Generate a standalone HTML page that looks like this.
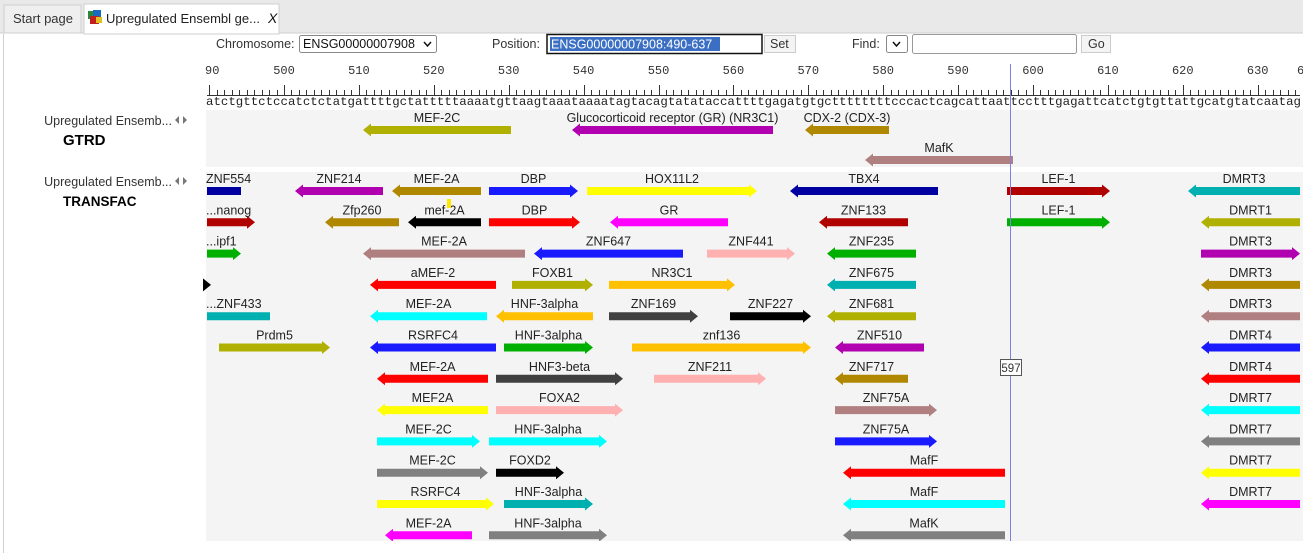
<!DOCTYPE html>
<html><head><meta charset="utf-8"><style>
html,body{margin:0;padding:0;width:1303px;height:553px;overflow:hidden;background:#fff;font-family:"Liberation Sans",Arial,sans-serif;}
svg{display:block}
</style></head><body>
<svg id="s" width="1303" height="553" xmlns="http://www.w3.org/2000/svg" font-family="Liberation Sans, Arial, sans-serif">
<rect x="0" y="0" width="1303" height="553" fill="#fff"/>
<rect x="0" y="0" width="1303" height="33" fill="#e9e9e9"/>
<line x1="0" y1="33" x2="1303" y2="33" stroke="#cfcfcf"/>
<rect x="4" y="5" width="77" height="28" fill="#efefef" stroke="#cfcfcf"/>
<text x="13" y="23" font-size="13" fill="#333">Start page</text>
<rect x="84" y="4" width="195" height="30" fill="#fff" stroke="#cfcfcf"/>
<rect x="88" y="11" width="8" height="8" fill="#2a8a3a"/><rect x="93" y="10" width="8" height="8" fill="#1a6ac0"/><rect x="90" y="16" width="9" height="8" fill="#c02020"/><rect x="96" y="17" width="6" height="6" fill="#e0c020"/>
<text x="106" y="23" font-size="13" fill="#222">Upregulated Ensembl ge...</text>
<text x="268" y="23" font-size="14" font-style="italic" fill="#111">X</text>
<line x1="3.5" y1="34" x2="3.5" y2="553" stroke="#d0d0d0"/>
<text x="216" y="48" font-size="12.5" fill="#333">Chromosome:</text>
<rect x="299.5" y="35.5" width="137" height="17" rx="2" fill="#fff" stroke="#888"/>
<text x="303" y="48" font-size="12.5" fill="#111">ENSG00000007908</text>
<path d="M424 42 l3.5 4 3.5-4" fill="none" stroke="#111" stroke-width="1.5"/>
<text x="492" y="48" font-size="12.5" fill="#333">Position:</text>
<rect x="547" y="34.5" width="215" height="19" fill="#fff" stroke="#111" stroke-width="1.5"/>
<rect x="550" y="37" width="170" height="14" fill="#3a6fc4"/>
<text x="551" y="48.5" font-size="12.5" fill="#fff">ENSG00000007908:490-637</text>
<rect x="764.5" y="35.5" width="31" height="17" fill="#f4f4f4" stroke="#ccc"/>
<text x="770" y="48" font-size="12.5" fill="#333">Set</text>
<text x="852" y="48" font-size="12.5" fill="#333">Find:</text>
<rect x="886.5" y="35.5" width="21" height="17" rx="2" fill="#fff" stroke="#888"/>
<path d="M893 42 l3.5 4 3.5-4" fill="none" stroke="#111" stroke-width="1.5"/>
<rect x="912.5" y="34.5" width="164" height="19" rx="2" fill="#fff" stroke="#999"/>
<rect x="1081.5" y="35.5" width="29" height="17" fill="#f4f4f4" stroke="#ccc"/>
<text x="1088" y="48" font-size="12.5" fill="#333">Go</text>
<g id="ruler"></g>
<rect x="206" y="110" width="1097" height="57" fill="#f4f4f4"/>
<rect x="206" y="172" width="1097" height="369" fill="#f4f4f4"/>
<text x="172" y="125" font-size="12.5" fill="#333" text-anchor="end">Upregulated Ensemb...</text>
<path d="M179 116 l-4 4 4 4z M183 116 l4 4 -4 4z" fill="#777"/>
<text x="63" y="145" font-size="15" font-weight="bold" fill="#000">GTRD</text>
<text x="172" y="186" font-size="12.5" fill="#333" text-anchor="end">Upregulated Ensemb...</text>
<path d="M179 177 l-4 4 4 4z M183 177 l4 4 -4 4z" fill="#777"/>
<text x="63" y="206" font-size="13.5" font-weight="bold" fill="#000">TRANSFAC</text>
<g id="feat"></g>
<line x1="1010.5" y1="64" x2="1010.5" y2="541" stroke="#8080e0" stroke-width="1"/>
<rect x="1000.5" y="359.5" width="21" height="16" fill="#fff" stroke="#555"/>
<text x="1011" y="372" font-size="11.5" fill="#333" text-anchor="middle">597</text>
</svg>
<script>
var NS="http://www.w3.org/2000/svg";
function el(p,t,a,txt){var e=document.createElementNS(NS,t);for(var k in a)e.setAttribute(k,a[k]);if(txt!=null)e.textContent=txt;p.appendChild(e);return e;}
var r=document.getElementById('ruler');
var px=7.49, x0=284-10*px;
function bx(b){return x0+(b-490)*px;}
var d="";
for(var b=490;b<=637;b++){var x=Math.round(bx(b))+0.5;if(x>1300)break;var h=(b%10==0)?10:5;d+="M"+x+" "+(95-h)+"V95";}
d+="M207 95.5H1300";
el(r,'path',{d:d,stroke:'#333','stroke-width':1,fill:'none'});
for(var b=500;b<=630;b+=10){el(r,'text',{x:bx(b),y:74,'font-size':12,'font-family':'Liberation Mono, monospace',fill:'#333','text-anchor':'middle'},String(b));}
el(r,'text',{x:205,y:74,'font-size':12,'font-family':'Liberation Mono, monospace',fill:'#333'},"90");
el(r,'text',{x:1297,y:74,'font-size':12,'font-family':'Liberation Mono, monospace',fill:'#333'},"6");
var seq="atctgttctccatctctatgattttgctatttttaaaatgttaagtaaataaaatagtacagtatataccattttgagatgtgcttttttttcccactcagcattaattcctttgagattcatctgtgttattgcatgtatcaatag";
el(r,'text',{x:206,y:105,'font-size':12,'font-family':'Liberation Mono, monospace',fill:'#222',textLength:(1301-206),lengthAdjust:'spacingAndGlyphs'},seq);
var f=document.getElementById('feat');
function arrow(x1,x2,y,dir,c,lab,la){
  var h=4,H=6.5,L=8,p;
  if(dir=='R'){p="M"+x1+" "+(y-h)+"H"+(x2-L)+"V"+(y-H)+"L"+x2+" "+y+"L"+(x2-L)+" "+(y+H)+"V"+(y+h)+"H"+x1+"Z";}
  else if(dir=='L'){p="M"+x2+" "+(y-h)+"H"+(x1+L)+"V"+(y-H)+"L"+x1+" "+y+"L"+(x1+L)+" "+(y+H)+"V"+(y+h)+"H"+x2+"Z";}
  else {p="M"+x1+" "+(y-h)+"H"+x2+"V"+(y+h)+"H"+x1+"Z";}
  el(f,'path',{d:p,fill:c});
  if(lab){var cx=la=='s'?x1-1:(x1+x2)/2;el(f,'text',{x:cx,y:y-8,'font-size':12.5,fill:'#222','text-anchor':la=='s'?'start':'middle'},lab);}
}
var C={pur:'#b000b0',gold:'#b08800',blue:'#1a1aff',yel:'#ffff00',navy:'#0000a0',dred:'#b00000',teal:'#00b0b0',red:'#ff0000',mag:'#ff00ff',grn:'#00b000',olive:'#b0b000',pink:'#ffb0b0',rose:'#b08080',cyan:'#00ffff',orng:'#ffc000',dgray:'#404040',gray:'#808080',blk:'#000'};
arrow(363,511,130,'L',C.olive,'MEF-2C');
arrow(572,773,130,'L',C.pur,'Glucocorticoid receptor (GR) (NR3C1)');
arrow(805,889,130,'L',C.gold,'CDX-2 (CDX-3)');
arrow(865,1013,160,'L',C.rose,'MafK');
var rows=[
[[207,241,'N',C.navy,'ZNF554','s'],[295,383,'L',C.pur,'ZNF214'],[392,481,'L',C.gold,'MEF-2A'],[489,578,'R',C.blue,'DBP'],[587,757,'R',C.yel,'HOX11L2'],[790,938,'L',C.navy,'TBX4'],[1007,1110,'R',C.dred,'LEF-1'],[1188,1300,'L',C.teal,'DMRT3']],
[[207,255,'R',C.dred,'...nanog','s'],[325,399,'L',C.gold,'Zfp260'],[408,481,'L',C.blk,'mef-2A'],[489,580,'R',C.red,'DBP'],[610,728,'L',C.mag,'GR'],[819,908,'L',C.dred,'ZNF133'],[1007,1110,'R',C.grn,'LEF-1'],[1201,1300,'L',C.olive,'DMRT1']],
[[207,241,'R',C.grn,'...ipf1','s'],[363,525,'L',C.rose,'MEF-2A'],[534,683,'L',C.blue,'ZNF647'],[707,795,'R',C.pink,'ZNF441'],[827,916,'L',C.grn,'ZNF235'],[1201,1300,'R',C.pur,'DMRT3']],
[[203,211,'R',C.blk,''],[370,496,'L',C.red,'aMEF-2'],[512,593,'R',C.olive,'FOXB1'],[609,735,'R',C.orng,'NR3C1'],[827,916,'L',C.teal,'ZNF675'],[1201,1300,'L',C.gold,'DMRT3']],
[[207,270,'N',C.teal,'...ZNF433','s'],[370,487,'L',C.cyan,'MEF-2A'],[496,593,'L',C.orng,'HNF-3alpha'],[609,698,'R',C.dgray,'ZNF169'],[730,811,'R',C.blk,'ZNF227'],[827,916,'L',C.olive,'ZNF681'],[1201,1300,'L',C.rose,'DMRT3']],
[[219,330,'R',C.olive,'Prdm5'],[370,496,'L',C.blue,'RSRFC4'],[504,593,'R',C.grn,'HNF-3alpha'],[632,811,'R',C.orng,'znf136'],[835,924,'L',C.pur,'ZNF510'],[1201,1300,'L',C.blue,'DMRT4']],
[[377,488,'L',C.red,'MEF-2A'],[496,623,'R',C.dgray,'HNF3-beta'],[654,766,'R',C.pink,'ZNF211'],[835,908,'L',C.gold,'ZNF717'],[1201,1300,'L',C.red,'DMRT4']],
[[377,488,'L',C.yel,'MEF2A'],[496,623,'R',C.pink,'FOXA2'],[835,937,'R',C.rose,'ZNF75A'],[1201,1300,'L',C.cyan,'DMRT7']],
[[377,480,'R',C.cyan,'MEF-2C'],[489,607,'R',C.cyan,'HNF-3alpha'],[835,937,'R',C.blue,'ZNF75A'],[1201,1300,'L',C.gray,'DMRT7']],
[[377,488,'R',C.gray,'MEF-2C'],[496,564,'R',C.blk,'FOXD2'],[843,1005,'L',C.red,'MafF'],[1201,1300,'L',C.yel,'DMRT7']],
[[377,494,'R',C.yel,'RSRFC4'],[504,593,'R',C.teal,'HNF-3alpha'],[843,1005,'L',C.cyan,'MafF'],[1201,1300,'L',C.mag,'DMRT7']],
[[385,472,'L',C.mag,'MEF-2A'],[489,607,'R',C.gray,'HNF-3alpha'],[843,1005,'L',C.gray,'MafK']]
];
for(var i=0;i<rows.length;i++){var y=191+i*31.3;rows[i].forEach(function(a){arrow(a[0],a[1],y,a[2],a[3],a[4],a[5]);});}
el(f,'rect',{x:447,y:199,width:4,height:9,fill:'#ffe800'});
el(f,'rect',{x:206,y:541,width:1097,height:12,fill:'#fff'});
</script>
</body></html>
